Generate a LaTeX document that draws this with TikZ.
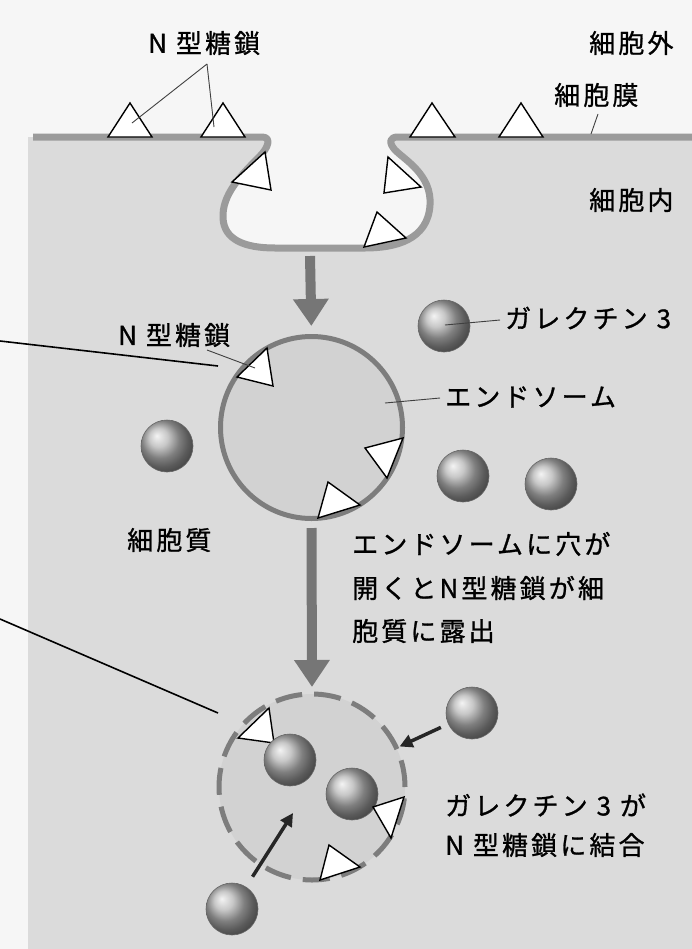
\documentclass[tikz,border=0pt]{standalone}
\usepackage{fontspec}
\setmainfont{Noto Sans CJK JP}[LetterSpace=12, FakeBold=1]
\usetikzlibrary{arrows.meta}

\definecolor{topbg}{RGB}{246,246,246}
\definecolor{cellbg}{RGB}{219,219,219}
\definecolor{membranegray}{RGB}{155,155,155}
\definecolor{endofill}{RGB}{210,210,210}
\definecolor{endoline}{RGB}{125,125,125}
\definecolor{flow}{RGB}{118,118,118}

\tikzset{
  tri/.style={fill=white, draw=black, line width=1.4bp, line join=miter},
  galectin/.style={circle, minimum size=52bp, inner sep=0pt, shading=ball,
    ball color=gray!58, draw=black!60, line width=0.6bp},
  lbl/.style={anchor=west, inner sep=0pt, font=\fontsize{26bp}{30bp}\selectfont},
  leader/.style={draw=black!75, line width=0.9bp},
  pointer/.style={draw=black, line width=1.6bp},
  bigarrow/.style={draw=flow, line width=10bp, -{Triangle[length=27bp 0,width=34bp 0]}},
  smallarrow/.style={draw=black!85, line width=3.5bp, -{Triangle[length=13bp 0,width=13bp 0]}},
  membrane/.style={draw=membranegray, line width=7bp, line join=round},
}

\begin{document}
\begin{tikzpicture}[x=1bp,y=-1bp]
  % background: outside (top) and cell interior
  \fill[topbg] (0,0) rectangle (692,949);
  \useasboundingbox (0,0) rectangle (692,949);
  \fill[cellbg] (28,137) rectangle (692,949);
  % open pit in the membrane
  \fill[topbg] (262,137) .. controls (272,137) and (268,148) .. (260,156)
    .. controls (240,176) and (222,195) .. (223,218)
    .. controls (224,240) and (245,248) .. (275,248) -- (365,248)
    .. controls (395,248) and (428,240) .. (430,205)
    .. controls (432,175) and (405,160) .. (395,150)
    .. controls (388,142) and (390,137) .. (398,137) -- cycle;
  % plasma membrane
  \draw[membrane] (33,137) -- (262,137) .. controls (272,137) and (268,148) .. (260,156)
    .. controls (240,176) and (222,195) .. (223,218)
    .. controls (224,240) and (245,248) .. (275,248) -- (365,248)
    .. controls (395,248) and (428,240) .. (430,205)
    .. controls (432,175) and (405,160) .. (395,150)
    .. controls (388,142) and (390,137) .. (398,137) -- (692,137);

  % N-glycans on the cell surface
  \draw[tri] (108,137) -- (130,103) -- (152,137) -- cycle;
  \draw[tri] (201,137) -- (223,103) -- (245,137) -- cycle;
  \draw[tri] (410,137) -- (432,103) -- (455,137) -- cycle;
  \draw[tri] (499,137) -- (521,103) -- (543,137) -- cycle;
  % N-glycans in the pit
  \draw[tri] (232,182) -- (265,152) -- (271,190) -- cycle;
  \draw[tri] (388,157) -- (384,193) -- (421,187) -- cycle;
  \draw[tri] (364,247) -- (377,212) -- (406,238) -- cycle;

  % labels at the top
  \node[lbl] (nglycTop) at (148,43) {N 型糖鎖};
  \node[lbl] (outside) at (589,43) {細胞外};
  \node[lbl] (membr) at (554,95) {細胞膜};
  \node[lbl] (inside) at (589,200) {細胞内};
  \coordinate (fork) at (207,64);
  \coordinate (glycA) at (132,123);
  \coordinate (glycB) at (214,127);
  \coordinate (membPt) at (591,134);
  \coordinate (membLbl) at (598,114);
  \draw[leader] (fork) -- (glycA);
  \draw[leader] (fork) -- (glycB);
  \draw[leader] (membLbl) -- (membPt);

  % endosome
  \coordinate (pit) at (310,256);
  \node[circle, minimum size=182bp, inner sep=0pt, fill=endofill, draw=endoline,
    line width=5bp] (endo) at (311.5,427.5) {};
  \draw[tri] (237,377) -- (267,348) -- (273,386) -- cycle;
  \draw[tri] (365,448) -- (403,438) -- (387,478) -- cycle;
  \draw[tri] (318,518) -- (328,482) -- (360,505) -- cycle;
  \draw[bigarrow, shorten >=8bp] (pit) -- (endo.north);

  % free galectin-3
  \node[galectin] (g1) at (444,326) {};
  \node[galectin] (g2) at (167,446) {};
  \node[galectin] (g3) at (463,476) {};
  \node[galectin] (g4) at (551,484) {};

  \node[lbl] (nglycEndo) at (118,335) {N 型糖鎖};
  \node[lbl] (galLbl) at (505,318) {ガレクチン 3};
  \node[lbl] (endoLbl) at (445,397) {エンドソーム};
  \node[lbl] (cytosol) at (127,540) {細胞質};
  \coordinate (nglycEndoPt) at (255,368);
  \coordinate (nglycEndoFoot) at (207,350);
  \coordinate (galPt) at (445,325);
  \coordinate (galFoot) at (500,320);
  \coordinate (endoPt) at (385,403);
  \coordinate (endoFoot) at (440,398);
  \draw[leader] (nglycEndoFoot) -- (nglycEndoPt);
  \draw[leader] (galFoot) -- (galPt);
  \draw[leader] (endoFoot) -- (endoPt);

  % ruptured endosome
  \node[circle, minimum size=186bp, inner sep=0pt, fill=endofill, draw=endoline,
    line width=5bp, dash pattern=on 27bp off 12bp] (broken) at (312,787) {};
  \draw[bigarrow, shorten <=7bp, shorten >=4.5bp] (endo.south) -- (broken.north);
  \draw[tri] (238,738) -- (269,708) -- (274,743) -- cycle;
  \node[galectin] (v1) at (290,760) {};
  \node[galectin] (v2) at (352,794) {};
  \draw[tri] (373,807) -- (404,797) -- (391,838) -- cycle;
  \draw[tri] (320,880) -- (329,845) -- (360,867) -- cycle;
  \node[galectin] (v3) at (472,713) {};
  \node[galectin] (v4) at (232,909) {};
  \coordinate (bind) at (293,813);
  \draw[smallarrow, shorten <=8bp, shorten >=1bp] (v3) -- (broken);
  \draw[smallarrow, shorten <=12bp] (v4) -- (bind);

  % descriptions
  \node[lbl] (rupt1) at (352,544) {エンドソームに穴が};
  \node[lbl] (rupt2) at (352,588) {開くとN型糖鎖が細};
  \node[lbl] (rupt3) at (352,631) {胞質に露出};
  \node[lbl] (bind1) at (445,805) {ガレクチン 3 が};
  \node[lbl] (bind2) at (445,845) {N 型糖鎖に結合};

  % pointers entering from the left edge
  \coordinate (edgeA) at (0,341);
  \coordinate (edgeB) at (0,619);
  \coordinate (endoEdge) at (218,366);
  \coordinate (brokenEdge) at (218,713);
  \draw[pointer] (edgeA) -- (endoEdge);
  \draw[pointer] (edgeB) -- (brokenEdge);
\end{tikzpicture}
\end{document}
